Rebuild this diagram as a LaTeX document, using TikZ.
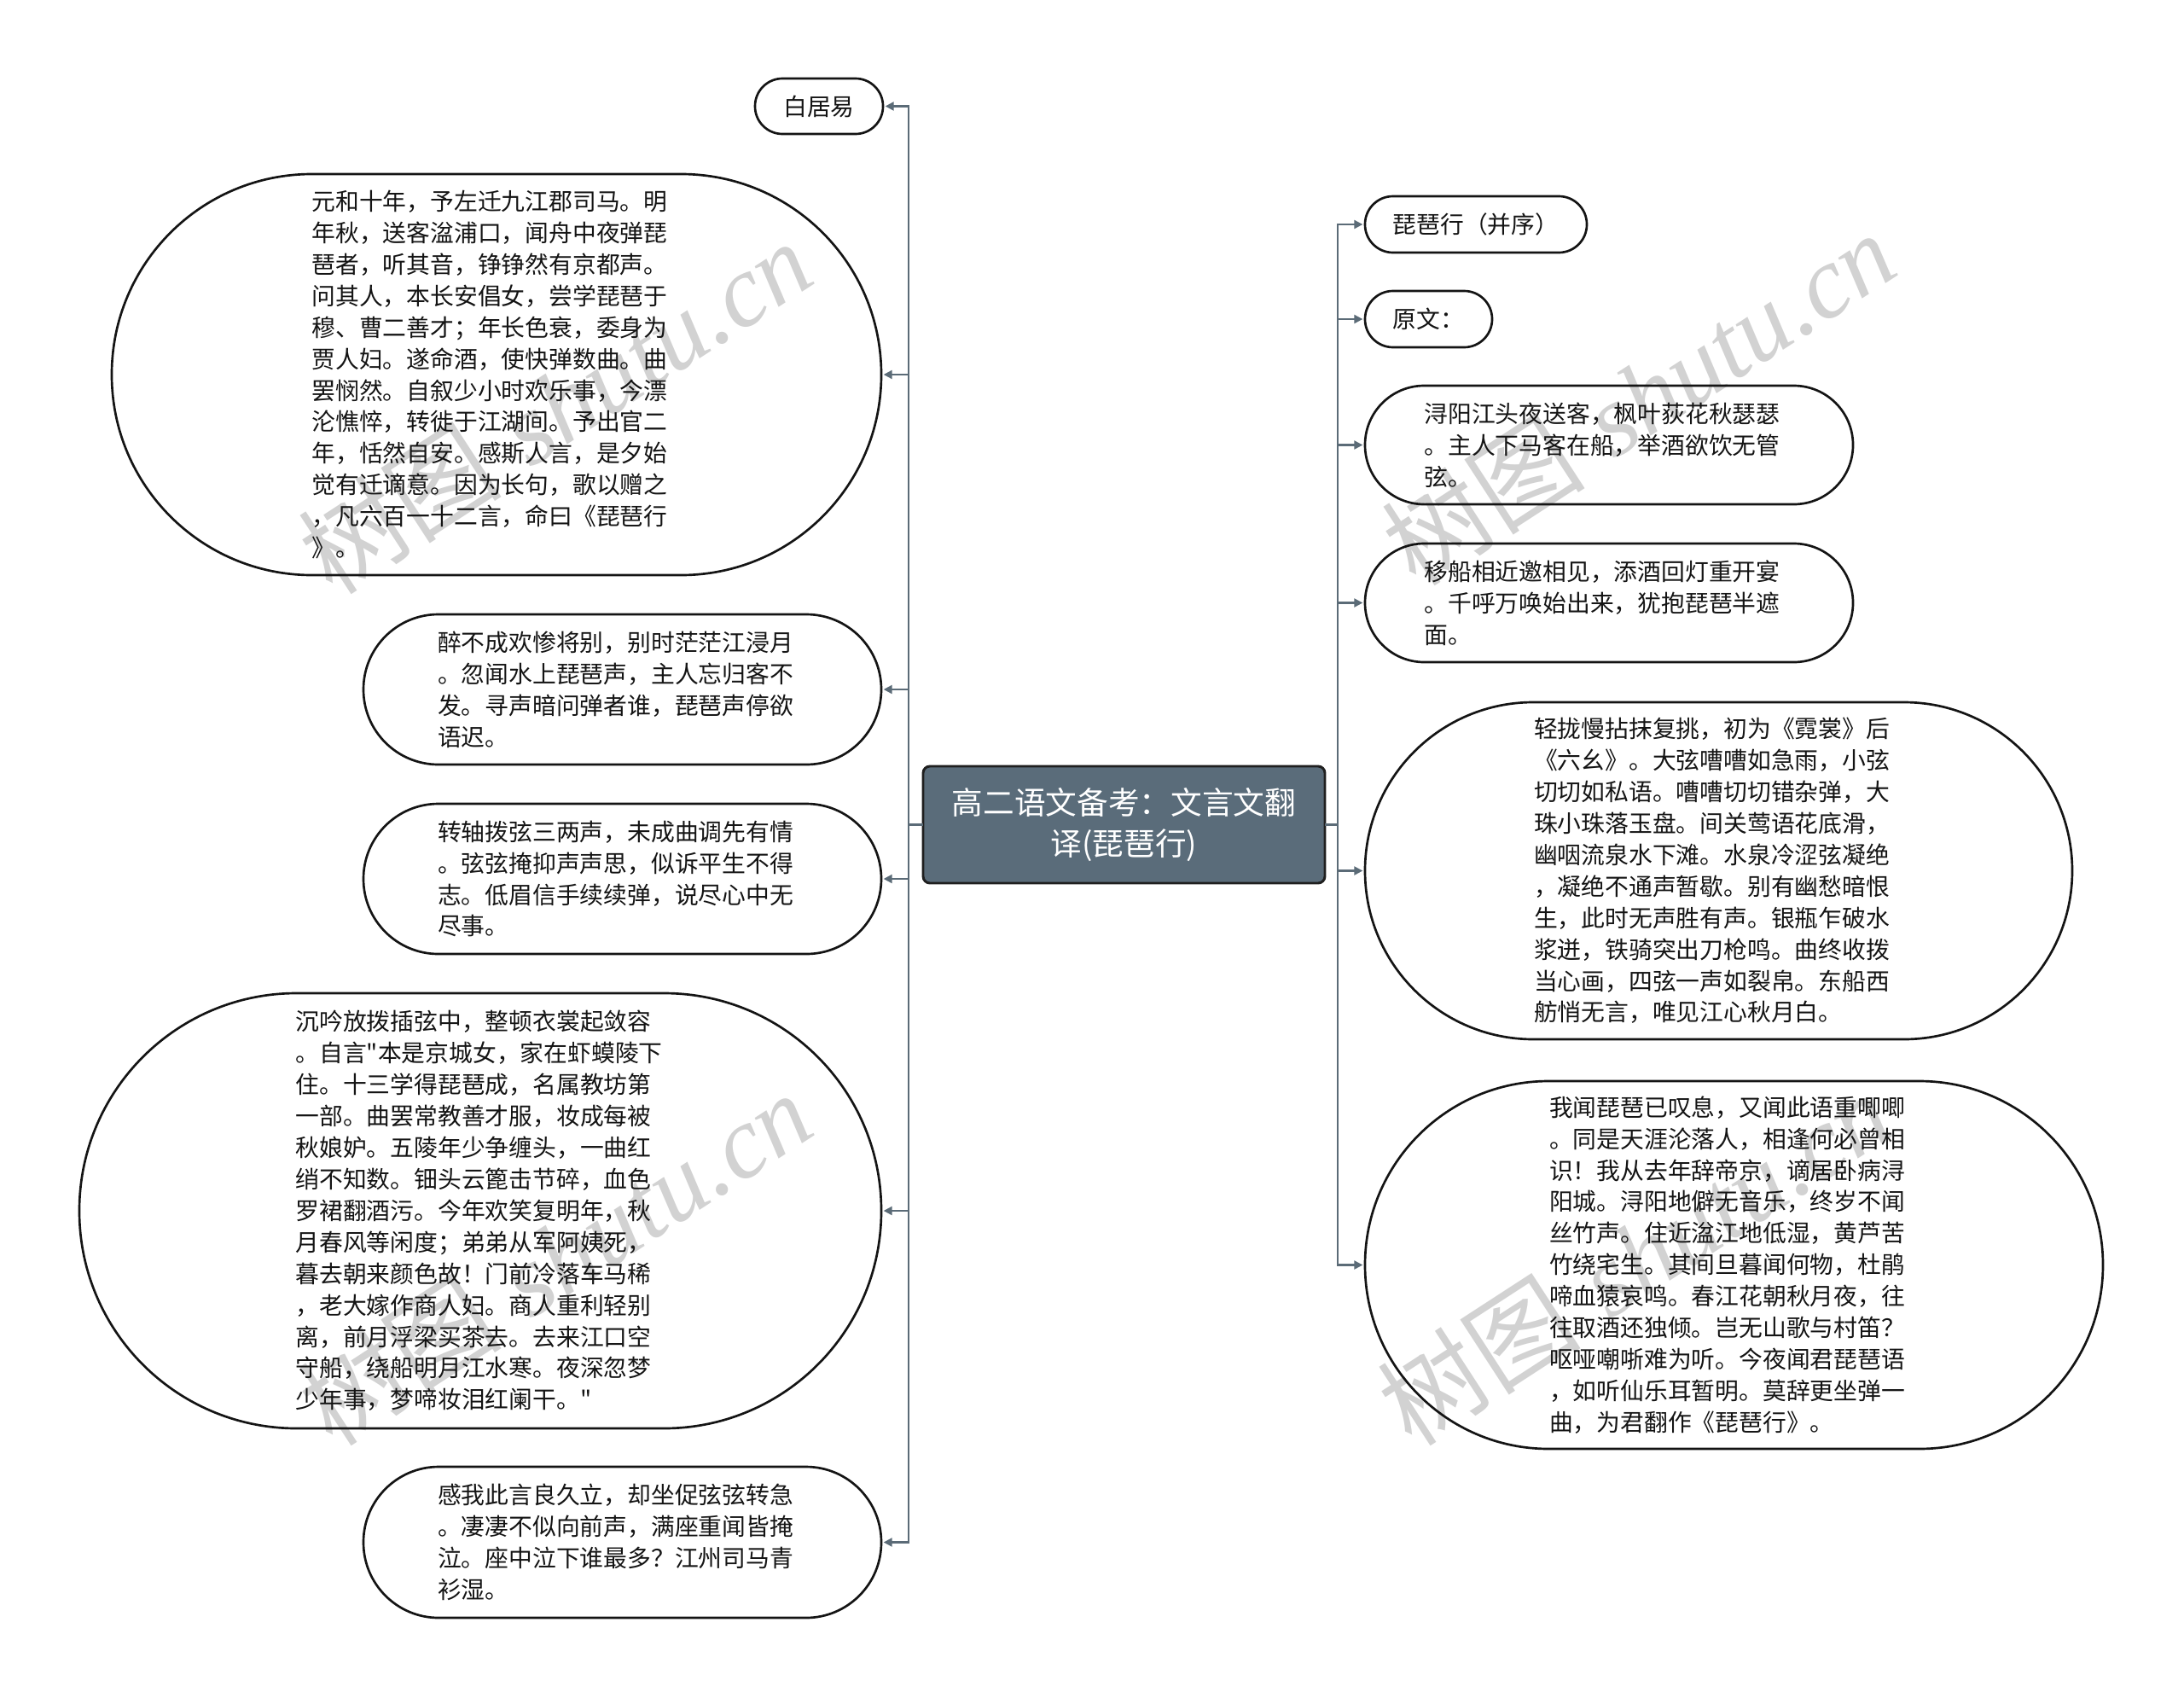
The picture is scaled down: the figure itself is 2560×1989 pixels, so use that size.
\documentclass[tikz,border=0pt]{standalone}
\usepackage{fontspec}
\newfontfamily\cjk{Noto Sans CJK SC}
\newfontfamily\wmlatin{Liberation Serif}
\usetikzlibrary{arrows.meta}
\definecolor{lc}{HTML}{5B6B77}
\definecolor{cfill}{HTML}{5A6C7A}
\definecolor{wmc}{HTML}{D2D2D2}
\begin{document}
\begin{tikzpicture}[x=0.75pt,y=-0.75pt,
  bub/.style={draw=black!92, line width=2pt, outer sep=0pt, inner sep=0pt,
    align=left, text=black!92, font=\cjk\fontsize{20.85pt}{27.7pt}\selectfont},
  para/.style={text width=324.75pt},
  ctr/.style={draw=black!88, fill=cfill, line width=2.2pt, rounded corners=6pt,
    outer sep=0pt, inner sep=0pt, align=center, text=white,
    font=\cjk\fontsize{27.5pt}{35.6pt}\selectfont},
  conn/.style={draw=lc, line width=1.6pt},
  arr/.style={draw=lc, line width=1.6pt, -{Triangle[length=7.5pt,width=7.5pt]}, shorten >=2pt},
  wmk/.style={text=wmc, inner sep=0pt, rotate=33, anchor=base west, font=\fontsize{90pt}{90pt}\selectfont}
]
\fill[white] (0,0) rectangle (2560,1989);
\useasboundingbox (0,0) rectangle (2560,1989);

% watermarks
\node[wmk] (w1) at (390,700) {{\cjk 树图} {\wmlatin\itshape shutu.cn}};
\node[wmk] (w2) at (390,1698) {{\cjk 树图} {\wmlatin\itshape shutu.cn}};
\node[wmk] (w3) at (1660,690) {{\cjk 树图} {\wmlatin\itshape shutu.cn}};
\node[wmk] (w4) at (1655,1698) {{\cjk 树图} {\wmlatin\itshape shutu.cn}};

% center
\node[ctr, minimum width=353.25pt, minimum height=102.75pt] (c) at (1317.5,966.5) {高二语文备考：文言文翻\\译(琵琶行)};

% left nodes
\node[bub, minimum width=112.5pt, minimum height=48.75pt, rounded corners=24.2pt] (bai) at (960,124.5) {白居易};
\node[bub, para, minimum width=676.5pt, minimum height=352.5pt, rounded corners=176pt] (n2) at (582,439) {元和十年，予左迁九江郡司马。明\\年秋，送客湓浦口，闻舟中夜弹琵\\琶者，听其音，铮铮然有京都声。\\问其人，本长安倡女，尝学琵琶于\\穆、曹二善才；年长色衰，委身为\\贾人妇。遂命酒，使快弹数曲。曲\\罢悯然。自叙少小时欢乐事，今漂\\沦憔悴，转徙于江湖间。予出官二\\年，恬然自安。感斯人言，是夕始\\觉有迁谪意。因为长句，歌以赠之\\，凡六百一十二言，命曰《琵琶行\\》。};
\node[bub, para, minimum width=455.25pt, minimum height=132pt, rounded corners=65.9pt] (n3) at (729.5,808) {醉不成欢惨将别，别时茫茫江浸月\\。忽闻水上琵琶声，主人忘归客不\\发。寻声暗问弹者谁，琵琶声停欲\\语迟。};
\node[bub, para, minimum width=455.25pt, minimum height=132pt, rounded corners=65.9pt] (n4) at (729.5,1030) {转轴拨弦三两声，未成曲调先有情\\。弦弦掩抑声声思，似诉平生不得\\志。低眉信手续续弹，说尽心中无\\尽事。};
\node[bub, para, minimum width=705pt, minimum height=382.5pt, rounded corners=191pt] (n5) at (563,1419) {沉吟放拨插弦中，整顿衣裳起敛容\\。自言"本是京城女，家在虾蟆陵下\\住。十三学得琵琶成，名属教坊第\\一部。曲罢常教善才服，妆成每被\\秋娘妒。五陵年少争缠头，一曲红\\绡不知数。钿头云篦击节碎，血色\\罗裙翻酒污。今年欢笑复明年，秋\\月春风等闲度；弟弟从军阿姨死，\\暮去朝来颜色故！门前冷落车马稀\\，老大嫁作商人妇。商人重利轻别\\离，前月浮梁买茶去。去来江口空\\守船，绕船明月江水寒。夜深忽梦\\少年事，梦啼妆泪红阑干。"};
\node[bub, para, minimum width=455.25pt, minimum height=132.75pt, rounded corners=66.2pt] (n6) at (729.5,1807.5) {感我此言良久立，却坐促弦弦转急\\。凄凄不似向前声，满座重闻皆掩\\泣。座中泣下谁最多？江州司马青\\衫湿。};

% right nodes
\node[bub, minimum width=195pt, minimum height=49.5pt, rounded corners=24.6pt] (r1) at (1730,263) {琵琶行（并序）};
\node[bub, minimum width=111.75pt, minimum height=49.5pt, rounded corners=24.6pt] (r2) at (1674.5,374) {原文：};
\node[bub, para, minimum width=429pt, minimum height=104.25pt, rounded corners=52pt] (r3) at (1886,521.5) {浔阳江头夜送客，枫叶荻花秋瑟瑟\\。主人下马客在船，举酒欲饮无管\\弦。};
\node[bub, para, minimum width=429pt, minimum height=104.25pt, rounded corners=52pt] (r4) at (1886,706.5) {移船相近邀相见，添酒回灯重开宴\\。千呼万唤始出来，犹抱琵琶半遮\\面。};
\node[bub, para, minimum width=621.75pt, minimum height=296.25pt, rounded corners=148pt] (r5) at (2014.5,1020.5) {轻拢慢拈抹复挑，初为《霓裳》后\\《六幺》。大弦嘈嘈如急雨，小弦\\切切如私语。嘈嘈切切错杂弹，大\\珠小珠落玉盘。间关莺语花底滑，\\幽咽流泉水下滩。水泉冷涩弦凝绝\\，凝绝不通声暂歇。别有幽愁暗恨\\生，此时无声胜有声。银瓶乍破水\\浆迸，铁骑突出刀枪鸣。曲终收拨\\当心画，四弦一声如裂帛。东船西\\舫悄无言，唯见江心秋月白。};
\node[bub, para, minimum width=648.75pt, minimum height=323.25pt, rounded corners=161.5pt] (r6) at (2032.5,1482.5) {我闻琵琶已叹息，又闻此语重唧唧\\。同是天涯沦落人，相逢何必曾相\\识！我从去年辞帝京，谪居卧病浔\\阳城。浔阳地僻无音乐，终岁不闻\\丝竹声。住近湓江地低湿，黄芦苦\\竹绕宅生。其间旦暮闻何物，杜鹃\\啼血猿哀鸣。春江花朝秋月夜，往\\往取酒还独倾。岂无山歌与村笛？\\呕哑嘲哳难为听。今夜闻君琵琶语\\，如听仙乐耳暂明。莫辞更坐弹一\\曲，为君翻作《琵琶行》。};

% connectors
\coordinate (L) at (1065,966.5);
\coordinate (R) at (1568,966.5);
\draw[conn] (c.west) -- (L);
\draw[conn] (c.east) -- (R);
\foreach \n in {bai,n2,n3,n4,n5,n6} \draw[arr] (L) |- (\n.east);
\foreach \n in {r1,r2,r3,r4,r5,r6} \draw[arr] (R) |- (\n.west);
\end{tikzpicture}
\end{document}
